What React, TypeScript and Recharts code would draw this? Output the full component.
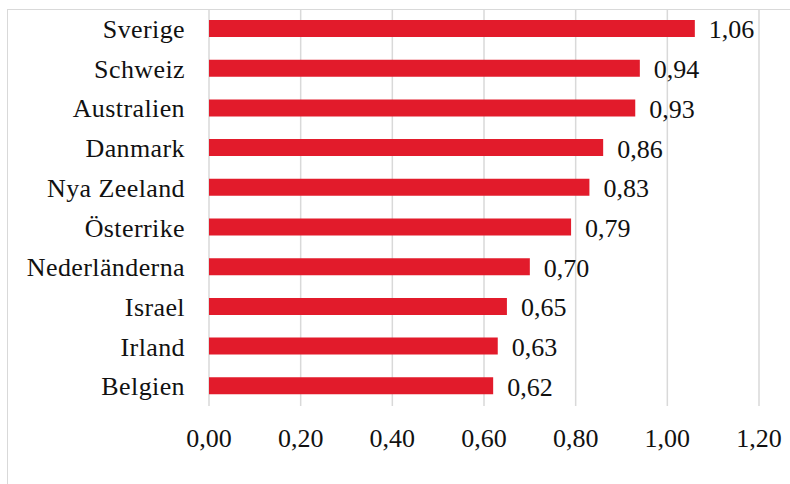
import React from "react";
import { BarChart, Bar, XAxis, YAxis, CartesianGrid, LabelList } from "recharts";

const countries = [
  "Sverige",
  "Schweiz",
  "Australien",
  "Danmark",
  "Nya Zeeland",
  "Österrike",
  "Nederländerna",
  "Israel",
  "Irland",
  "Belgien",
];
const values = [1.06, 0.94, 0.93, 0.86, 0.83, 0.79, 0.7, 0.65, 0.63, 0.62];
const xTicks = [0, 0.2, 0.4, 0.6, 0.8, 1.0, 1.2];

const data = countries.map((name, i) => ({ name, value: values[i] }));

const FONT = "Liberation Serif";
const fmt = (v: number) => v.toFixed(2).replace(".", ",");

const ValueLabel = (props: any) => {
  const { x, y, width, height, value } = props;
  return (
    <text
      x={x + width + 14}
      y={y + height / 2 + 4}
      dominantBaseline="middle"
      style={{ fontFamily: FONT, fontSize: 26 }}
      fill="#111"
    >
      {fmt(value)}
    </text>
  );
};

export default function App() {
  return (
    <div
      style={{
        position: "absolute",
        left: 0,
        top: 0,
        width: 790,
        height: 484,
        overflow: "hidden",
        background: "#fff",
        fontFamily: FONT,
      }}
    >
      <div
        style={{
          position: "absolute",
          left: 7,
          top: 9,
          width: 900,
          height: 600,
          border: "1.5px solid #d9d9d9",
          boxSizing: "border-box",
        }}
      />
      <div style={{ position: "absolute", left: 0, top: 0 }}>
        <BarChart
          width={790}
          height={484}
          data={data}
          layout="vertical"
          margin={{ top: 9, right: 31, bottom: 38, left: 0 }}
          style={{ fontFamily: FONT }}
        >
          <CartesianGrid horizontal={false} stroke="#d9d9d9" strokeWidth={1.5} />
          <XAxis
            type="number"
            domain={[0, 1.2]}
            ticks={xTicks}
            tickFormatter={fmt}
            axisLine={false}
            tickLine={false}
            height={40}
            tickMargin={17}
            interval={0}
            tick={{ fontSize: 26, fill: "#111", style: { fontFamily: FONT } }}
          />
          <YAxis
            type="category"
            dataKey="name"
            width={209}
            axisLine={false}
            tickLine={false}
            tickMargin={18}
            interval={0}
            tick={{
              fontSize: 26,
              fill: "#111",
              style: { fontFamily: FONT, letterSpacing: 0.4 },
            }}
          />
          <Bar dataKey="value" fill="#e21b2b" barSize={17} isAnimationActive={false}>
            <LabelList dataKey="value" content={ValueLabel} />
          </Bar>
        </BarChart>
      </div>
    </div>
  );
}
